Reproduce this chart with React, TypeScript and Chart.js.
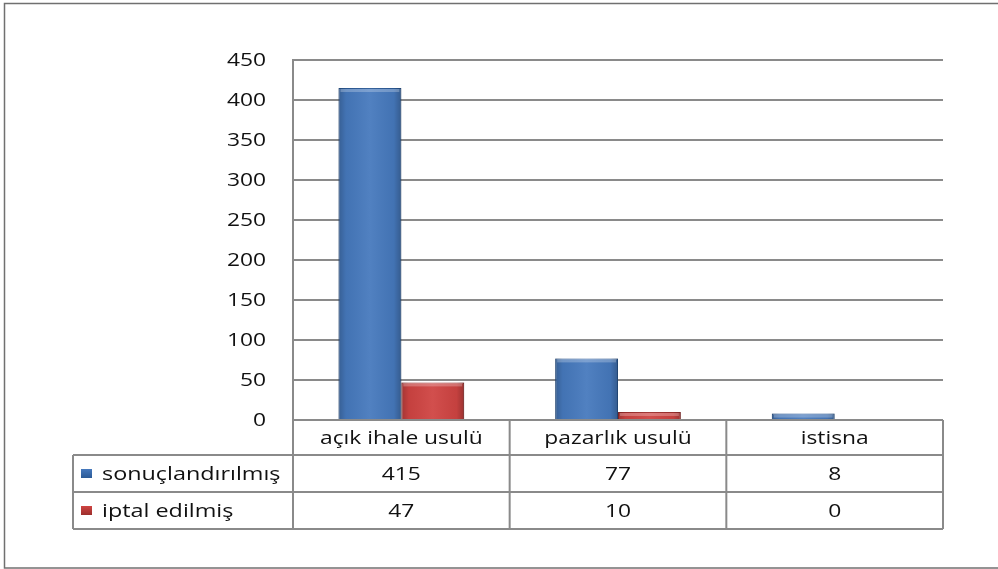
import React, { useEffect, useRef } from "react";
import { Chart, registerables } from "chart.js";

Chart.register(...registerables);

const categories = ["açık ihale usulü", "pazarlık usulü", "istisna"];
const seriesNames = ["sonuçlandırılmış", "iptal edilmiş"];
const completed = [415, 77, 8];
const cancelled = [47, 10, 0];
const yMax = 450;
const yStep = 50;

const FONT = '"Open Sans", sans-serif';
const TEXT = "#111111";
const STRETCH = 1.2;
const LEGEND_STRETCH = 1.23;
const BLUE = "#4679bd";
const BLUE_DARK = "#2b5a96";
const RED = "#cf4442";
const RED_DARK = "#9c2e2c";
const GRID = "#8a8a8a";

function stretchText(
  ctx: CanvasRenderingContext2D,
  text: string,
  x: number,
  y: number,
  align: CanvasTextAlign,
  k: number = STRETCH
) {
  ctx.save();
  ctx.translate(x, y);
  ctx.scale(k, 1);
  ctx.textAlign = align;
  ctx.textBaseline = "middle";
  ctx.fillText(text, 0, 0);
  ctx.restore();
}

const tablePlugin = {
  id: "dataTable",
  beforeDraw(chart: any) {
    const ctx = chart.ctx;
    ctx.save();
    ctx.fillStyle = "#ffffff";
    ctx.fillRect(0, 0, chart.width, chart.height);
    ctx.strokeStyle = "#707070";
    ctx.lineWidth = 1.5;
    ctx.strokeRect(4.5, 3.5, chart.width + 10, chart.height - 4.5);
    ctx.restore();
  },
  afterDatasetsDraw(chart: any) {
    const ctx = chart.ctx;
    ctx.save();
    chart.data.datasets.forEach((_: any, di: number) => {
      const meta = chart.getDatasetMeta(di);
      meta.data.forEach((bar: any) => {
        const w = bar.width;
        const l = bar.x - w / 2;
        const top = Math.min(bar.y, bar.base);
        const h = Math.abs(bar.base - bar.y);
        if (h < 1) return;
        const g = ctx.createLinearGradient(l, 0, l + w, 0);
        g.addColorStop(0, "rgba(0,0,0,0.22)");
        g.addColorStop(0.12, "rgba(0,0,0,0.05)");
        g.addColorStop(0.5, "rgba(255,255,255,0.06)");
        g.addColorStop(0.88, "rgba(0,0,0,0.05)");
        g.addColorStop(1, "rgba(0,0,0,0.25)");
        ctx.fillStyle = g;
        ctx.fillRect(l, top, w, h);
        const bh = Math.min(4, h);
        ctx.fillStyle = "rgba(255,255,255,0.25)";
        ctx.fillRect(l + 2, top + 1, w - 4, bh - 1);
      });
    });
    ctx.restore();
  },
  afterDraw(chart: any) {
    const ctx = chart.ctx;
    const { left, right, bottom } = chart.chartArea;
    const xs = chart.scales.x;
    const ys = chart.scales.y;
    const n = categories.length;
    const colW = (right - left) / n;
    const bounds = [];
    for (let i = 0; i <= n; i++) bounds.push(left + i * colW);
    const rowY = [bottom, bottom + 35, bottom + 72, bottom + 109];
    const legendLeft = 73;
    const dy = 1.5;

    ctx.save();
    ctx.font = `19px ${FONT}`;
    ctx.fillStyle = TEXT;
    for (let v = 0; v <= yMax; v += yStep) {
      stretchText(ctx, String(v), 266, ys.getPixelForValue(v) + 1, "right");
    }

    ctx.strokeStyle = GRID;
    ctx.lineWidth = 2;
    ctx.beginPath();
    ctx.moveTo(left, rowY[0]);
    ctx.lineTo(right, rowY[0]);
    for (let r = 1; r < rowY.length; r++) {
      ctx.moveTo(legendLeft, rowY[r]);
      ctx.lineTo(right, rowY[r]);
    }
    for (let i = 0; i <= n; i++) {
      ctx.moveTo(bounds[i], rowY[0]);
      ctx.lineTo(bounds[i], rowY[3]);
    }
    ctx.moveTo(legendLeft, rowY[1]);
    ctx.lineTo(legendLeft, rowY[3]);
    ctx.stroke();

    ctx.fillStyle = TEXT;
    for (let i = 0; i < n; i++) {
      const cx = xs.getPixelForValue(i);
      stretchText(ctx, categories[i], cx, (rowY[0] + rowY[1]) / 2 + dy, "center");
      stretchText(ctx, String(completed[i]), cx, (rowY[1] + rowY[2]) / 2 + dy, "center");
      stretchText(ctx, String(cancelled[i]), cx, (rowY[2] + rowY[3]) / 2 + dy, "center");
    }
    const colors = [
      [BLUE, BLUE_DARK],
      [RED, RED_DARK],
    ];
    for (let s = 0; s < seriesNames.length; s++) {
      const cy = (rowY[s + 1] + rowY[s + 2]) / 2;
      const mg = ctx.createLinearGradient(0, cy - 4.5, 0, cy + 4.5);
      mg.addColorStop(0, colors[s][0]);
      mg.addColorStop(1, colors[s][1]);
      ctx.fillStyle = mg;
      ctx.fillRect(81, cy - 4.5, 11, 9);
      ctx.fillStyle = TEXT;
      stretchText(ctx, seriesNames[s], 102, cy + dy, "left", LEGEND_STRETCH);
    }
    ctx.restore();
  },
};

export default function App() {
  const ref = useRef<HTMLCanvasElement | null>(null);
  useEffect(() => {
    document.body.style.margin = "0";
    const canvas = ref.current;
    if (!canvas) return;
    const chart = new Chart(canvas, {
      type: "bar",
      data: {
        labels: categories,
        datasets: [
          {
            label: seriesNames[0],
            data: completed,
            backgroundColor: BLUE,
            borderColor: BLUE_DARK,
            borderWidth: 1,
          },
          {
            label: seriesNames[1],
            data: cancelled,
            backgroundColor: RED,
            borderColor: RED_DARK,
            borderWidth: 1,
          },
        ],
      },
      options: {
        animation: false,
        responsive: false,
        layout: { padding: { top: 60, right: 55, bottom: 149, left: 0 } },
        plugins: {
          legend: { display: false },
          tooltip: { enabled: false },
        },
        datasets: { bar: { categoryPercentage: 0.58, barPercentage: 1 } },
        scales: {
          x: {
            display: true,
            grid: { display: false, drawTicks: false },
            border: { display: false },
            ticks: { display: false },
          },
          y: {
            min: 0,
            max: yMax,
            ticks: {
              stepSize: yStep,
              display: false,
            },
            grid: { color: GRID, lineWidth: 2, drawTicks: false },
            border: { display: true, color: GRID, width: 2 },
            afterFit(scale: any) {
              scale.width = 293;
            },
          },
        },
      },
      plugins: [tablePlugin],
    });
    return () => chart.destroy();
  }, []);
  return (
    <div style={{ width: 998, height: 569 }}>
      <canvas ref={ref} width={998} height={569} style={{ display: "block" }} />
    </div>
  );
}
